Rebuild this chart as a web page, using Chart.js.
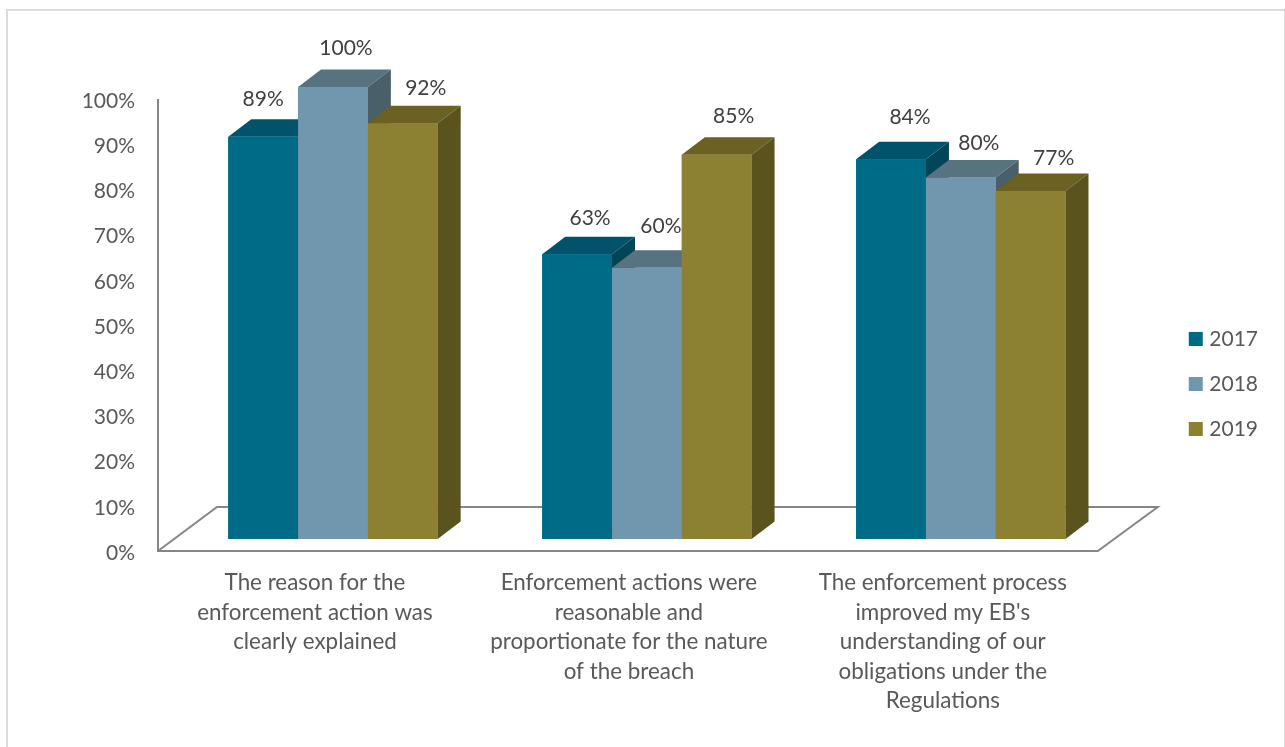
<!DOCTYPE html>
<html>
<head>
<meta charset="utf-8">
<title>Enforcement survey</title>
<script src="https://cdn.jsdelivr.net/npm/chart.js@4/dist/chart.umd.min.js"></script>
<style>
    html, body { margin: 0; background: #fff; overflow: hidden; }
    #frame { position: absolute; left: 6px; top: 9px; width: 1276px; height: 738px; border: 2px solid #dcdcdc; border-bottom: 0; }
    #chart { position: absolute; left: 0; top: 0; }
</style>
</head>
<body>
<canvas id="chart" width="1285" height="747"></canvas>
<div id="frame"></div>
<script>
const categories = [
    ['The reason for the', 'enforcement action was', 'clearly explained'],
    ['Enforcement actions were', 'reasonable and', 'proportionate for the nature', 'of the breach'],
    ['The enforcement process', "improved my EB's", 'understanding of our', 'obligations under the', 'Regulations']
];
const years = ['2017', '2018', '2019'];
const values2017 = [89, 63, 84];
const values2018 = [100, 60, 80];
const values2019 = [92, 85, 77];
const yTicks = [0, 10, 20, 30, 40, 50, 60, 70, 80, 90, 100];

const FONT = 'Lato, sans-serif';
const FRONT = ['#006b87', '#7097ad', '#8c8032'];
const TOP = ['#00536a', '#587380', '#6b6122'];
const SIDE = ['#004658', '#4a6069', '#5a531e'];

// bars sit on a plane set back from the axis plane
const PX_PER_UNIT = 4.52;
const PLANE_SHIFT = 12 / PX_PER_UNIT;
const AREA_UNITS = (551 - 87) / PX_PER_UNIT;
const BAR_DX = 23, BAR_DY = 17.5;
const FLOOR_DX = 59, FLOOR_DY = 44;

// where each value label sits relative to its bar top (series, then category)
const labelNudge = [
    [[0, -38], [13, -37], [19, -43]],
    [[13, -40], [14, -43], [18, -35]],
    [[23, -36], [17, -40], [23, -34]]
];

function poly(ctx, pts, fill) {
    ctx.beginPath();
    pts.forEach((p, i) => i ? ctx.lineTo(p[0], p[1]) : ctx.moveTo(p[0], p[1]));
    ctx.closePath();
    ctx.fillStyle = fill;
    ctx.fill();
}

const bars3d = {
    id: 'bars3d',
    beforeDatasetsDraw(chart) {
        const { ctx, chartArea, scales } = chart;
        const x0 = chartArea.left - 18, x1 = chartArea.right - 20;
        const y0 = scales.y.getPixelForValue(0), yTop = scales.y.getPixelForValue(100);

        // floor and axis
        ctx.save();
        ctx.strokeStyle = '#868686';
        ctx.lineWidth = 2;
        ctx.beginPath();
        ctx.moveTo(x0, yTop);
        ctx.lineTo(x0, y0);
        ctx.lineTo(x1, y0);
        ctx.lineTo(x1 + FLOOR_DX + 1, y0 - FLOOR_DY);
        ctx.lineTo(x0 + FLOOR_DX, y0 - FLOOR_DY);
        ctx.lineTo(x0, y0);
        ctx.stroke();

        // value labels, bars go over them
        ctx.fillStyle = '#404040';
        ctx.font = '21px ' + FONT;
        ctx.textAlign = 'center';
        ctx.textBaseline = 'middle';
        chart.data.datasets.forEach((ds, s) => {
            chart.getDatasetMeta(s).data.forEach((bar, c) => {
                ctx.fillText(ds.data[c] + '%', bar.x + labelNudge[s][c][0], bar.y + labelNudge[s][c][1] + 1);
            });
        });
        ctx.restore();
    },
    afterDatasetsDraw(chart) {
        const { ctx } = chart;
        // left to right so each series covers the sides of the one before
        chart.data.datasets.forEach((ds, s) => {
            chart.getDatasetMeta(s).data.forEach(bar => {
                const l = bar.x - bar.width / 2, r = bar.x + bar.width / 2;
                poly(ctx, [[l, bar.y], [r, bar.y], [r + BAR_DX, bar.y - BAR_DY], [l + BAR_DX, bar.y - BAR_DY]], TOP[s]);
                poly(ctx, [[r, bar.y], [r + BAR_DX, bar.y - BAR_DY], [r + BAR_DX, bar.base - BAR_DY], [r, bar.base]], SIDE[s]);
                bar.draw(ctx);
            });
        });
    }
};

// legend items sit further right and higher than the layout puts them
const legendShift = {
    id: 'legendShift',
    afterLayout(chart) {
        const lg = chart.legend;
        lg.left += 51;
        lg.right += 51;
        lg.top -= 33;
        lg.bottom -= 33;
    }
};

new Chart(document.getElementById('chart'), {
    type: 'bar',
    data: {
        labels: categories,
        datasets: [
            { label: years[0], data: values2017, backgroundColor: FRONT[0], yAxisID: 'yBars' },
            { label: years[1], data: values2018, backgroundColor: FRONT[1], yAxisID: 'yBars' },
            { label: years[2], data: values2019, backgroundColor: FRONT[2], yAxisID: 'yBars' }
        ]
    },
    options: {
        responsive: false,
        animation: false,
        layout: { autoPadding: false, padding: { top: 87, right: 68, left: 0, bottom: 0 } },
        datasets: { bar: { barPercentage: 1, categoryPercentage: 0.667 } },
        scales: {
            x: {
                grid: { display: false },
                border: { display: false },
                afterFit: s => { s.height = 196; },
                ticks: {
                    autoSkip: false, maxRotation: 0, padding: 9, labelOffset: -18,
                    color: '#595959', font: { family: FONT, size: 22.4, lineHeight: 1.32 }
                }
            },
            y: {
                min: 0, max: AREA_UNITS,
                grid: { display: false },
                border: { display: false },
                afterFit: s => { s.width = 176; },
                afterBuildTicks: s => { s.ticks = yTicks.map(v => ({ value: v })); },
                ticks: {
                    padding: 33, labelOffset: 2, color: '#595959',
                    font: { family: FONT, size: 21 },
                    callback: v => v + '%'
                }
            },
            yBars: { display: false, min: -PLANE_SHIFT, max: AREA_UNITS - PLANE_SHIFT }
        },
        plugins: {
            tooltip: { enabled: false },
            legend: {
                position: 'right',
                labels: {
                    boxWidth: 6, boxHeight: 6, padding: 24,
                    color: '#595959', font: { family: FONT, size: 21 },
                    generateLabels: chart => Chart.defaults.plugins.legend.labels.generateLabels(chart)
                        .map(item => ({ ...item, lineWidth: 8, strokeStyle: item.fillStyle }))
                }
            }
        }
    },
    plugins: [bars3d, legendShift]
});
</script>
</body>
</html>
